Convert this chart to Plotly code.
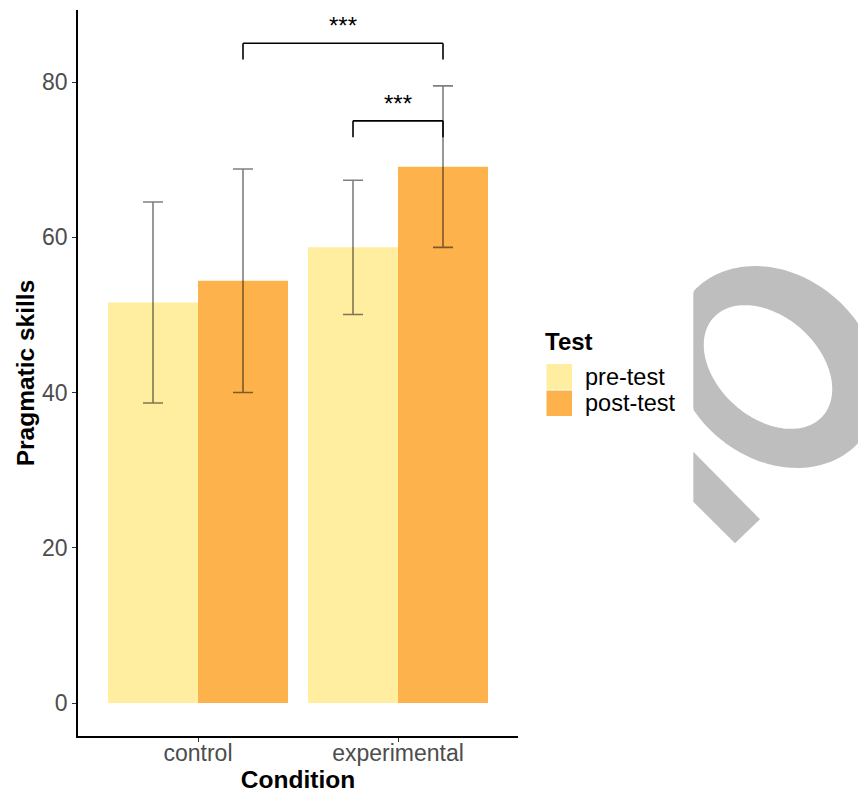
import numpy as np
import plotly.graph_objects as go

# ---- data -------------------------------------------------------------
conditions = ["control", "experimental"]
tests = ["pre-test", "post-test"]
pre_mean = [51.6, 58.7]
pre_sd = [12.95, 8.65]
post_mean = [54.4, 69.1]
post_sd = [14.4, 10.4]
fill_colors = ["#FFEDA0", "#FEB24C"]

# significance brackets: (left bar, right bar, height, label)
# bar position = condition index + dodge (-0.225 pre, +0.225 post)
bracket_left = [0.225, 0.775]
bracket_right = [1.225, 1.225]
bracket_y = [85.0, 75.0]
bracket_labels = ["***", "***"]
tip_length = 2.1

# ---- canvas geometry --------------------------------------------------
W, H = 858, 796
ML, MR, MT, MB = 78, 340, 10, 60
PW, PH = W - ML - MR, H - MT - MB


def px(x):
    return (x - ML) / PW


def py(y):
    return 1 - (y - MT) / PH


FONT = "Liberation Sans, Arial, sans-serif"

fig = go.Figure()
for name, means, sds, col in zip(tests, [pre_mean, post_mean], [pre_sd, post_sd], fill_colors):
    fig.add_trace(go.Bar(
        x=conditions, y=means, name=name, marker=dict(color=col, line=dict(width=0)),
        error_y=dict(type="data", array=sds, visible=True, color="rgba(0,0,0,0.5)",
                     thickness=1.6, width=10),
        showlegend=False,
    ))

shapes = []
annotations = []

# brackets
for xl, xr, yb, lab in zip(bracket_left, bracket_right, bracket_y, bracket_labels):
    line = dict(color="black", width=1.6)
    shapes.append(dict(type="line", xref="x", yref="y", x0=xl, x1=xr, y0=yb, y1=yb, line=line))
    shapes.append(dict(type="line", xref="x", yref="y", x0=xl, x1=xl, y0=yb, y1=yb - tip_length, line=line))
    shapes.append(dict(type="line", xref="x", yref="y", x0=xr, x1=xr, y0=yb, y1=yb - tip_length, line=line))
    annotations.append(dict(x=(xl + xr) / 2, y=yb, xref="x", yref="y", text=lab, showarrow=False,
                            yanchor="bottom", yshift=2, font=dict(family=FONT, size=24, color="black")))

# legend drawn by hand: title, keys, labels
annotations.append(dict(x=px(543), y=py(341), xref="paper", yref="paper", text="<b>Test</b>",
                        showarrow=False, xanchor="left", yanchor="middle",
                        font=dict(family=FONT, size=24, color="black")))
key_tops = [364, 390.5]
for top, name, col in zip(key_tops, tests, fill_colors):
    shapes.append(dict(type="rect", xref="paper", yref="paper", x0=px(546.5), x1=px(572),
                       y0=py(top), y1=py(top + 25.5), fillcolor=col, line=dict(width=0)))
    annotations.append(dict(x=px(583), y=py(top + 13), xref="paper", yref="paper", text=name,
                            showarrow=False, xanchor="left", yanchor="middle",
                            font=dict(family=FONT, size=23.5, color="black")))

# grey ring-and-tail mark on the right
def ellipse(cx, cy, a, b, theta_deg, n=180, reverse=False):
    t = np.linspace(0, 2 * np.pi, n)
    if reverse:
        t = t[::-1]
    th = np.deg2rad(theta_deg)
    xs = cx + a * np.cos(t) * np.cos(th) - b * np.sin(t) * np.sin(th)
    ys = cy + a * np.cos(t) * np.sin(th) + b * np.sin(t) * np.cos(th)
    return xs, ys


def to_path(xs, ys):
    pts = [f"{px(x):.5f},{py(y):.5f}" for x, y in zip(xs, ys)]
    return "M " + " L ".join(pts) + " Z"


ox, oy = ellipse(776, 367, 112, 91, 42)
ox = np.maximum(ox, 693.3)
ix, iy = ellipse(768, 367, 73.5, 50.5, 42, reverse=True)
ring_path = to_path(ox, oy) + " " + to_path(ix, iy)
shapes.append(dict(type="path", xref="paper", yref="paper", path=ring_path,
                   fillcolor="#BEBEBE", line=dict(width=0), fillrule="evenodd", layer="above"))
tail_x = [693.3, 693.3, 735, 760]
tail_y = [451.7, 501.7, 543.3, 519.3]
shapes.append(dict(type="path", xref="paper", yref="paper", path=to_path(tail_x, tail_y),
                   fillcolor="#BEBEBE", line=dict(width=0), layer="above"))

fig.update_layout(
    width=W, height=H,
    margin=dict(l=ML, r=MR, t=MT, b=MB, autoexpand=False),
    paper_bgcolor="white", plot_bgcolor="white",
    barmode="group", bargap=0.1, bargroupgap=0,
    shapes=shapes, annotations=annotations,
    font=dict(family=FONT),
)
fig.update_xaxes(
    type="category", range=[-0.6, 1.6], showline=True, linecolor="black", linewidth=1.5,
    ticks="outside", ticklen=4, tickcolor="#333333", tickwidth=1, ticklabelstandoff=-8,
    tickfont=dict(family=FONT, size=23, color="#4D4D4D"), showgrid=False, zeroline=False,
    title=dict(text="<b>Condition</b>", font=dict(family=FONT, size=24.5, color="black"), standoff=5),
)
fig.update_yaxes(
    range=[-4.25, 89.28], tickvals=[0, 20, 40, 60, 80], showline=True, linecolor="black",
    linewidth=1.5, ticks="outside", ticklen=4, tickcolor="#333333", tickwidth=1,
    tickfont=dict(family=FONT, size=23, color="#4D4D4D"), showgrid=False, zeroline=False,
    title=dict(text="<b>Pragmatic skills</b>", font=dict(family=FONT, size=24.5, color="black"), standoff=0),
)

fig.write_html("out.html")
